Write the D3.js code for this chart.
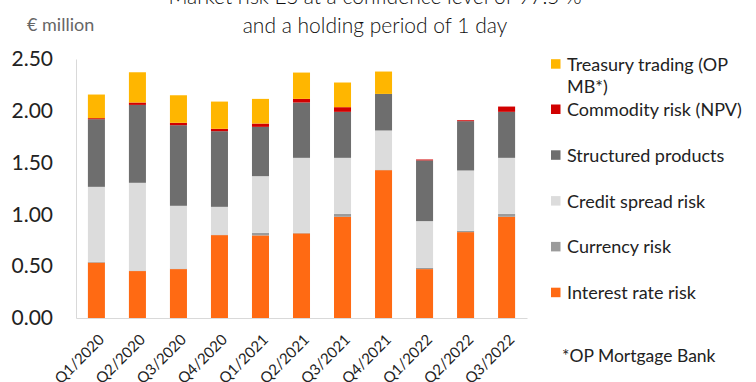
<!DOCTYPE html>
<html><head><meta charset="utf-8">
<script src="https://cdn.jsdelivr.net/npm/d3@7"></script>
<style>
body{margin:0;background:#fff;}
svg{display:block;}
text{font-family:Lato, "Open Sans", sans-serif;}
</style></head>
<body><svg id="c" width="756" height="382"></svg>
<script>
const categories = ["Q1/2020","Q2/2020","Q3/2020","Q4/2020","Q1/2021","Q2/2021","Q3/2021","Q4/2021","Q1/2022","Q2/2022","Q3/2022"];
const interestRate = [0.535,0.453,0.472,0.800,0.797,0.817,0.977,1.427,0.472,0.829,0.977];
const currency     = [0.008,0.005,0.005,0.005,0.026,0.005,0.029,0.005,0.013,0.013,0.029];
const creditSpread = [0.723,0.847,0.606,0.268,0.546,0.724,0.540,0.378,0.450,0.582,0.540];
const structured   = [0.653,0.752,0.778,0.730,0.476,0.534,0.444,0.353,0.586,0.476,0.444];
const commodity    = [0.010,0.023,0.023,0.023,0.032,0.035,0.045,0.000,0.009,0.009,0.051];
const treasury     = [0.228,0.292,0.266,0.263,0.238,0.254,0.238,0.216,0.000,0.000,0.000];
const seriesNames  = ["Interest rate risk","Currency risk","Credit spread risk","Structured products","Commodity risk (NPV)","Treasury trading (OP MB*)"];
const seriesColors = ["#FF6A13","#9B9B9B","#DCDCDC","#6E6E6E","#D10000","#FFB600"];
const yTicks = [0,0.5,1.0,1.5,2.0,2.5];
const titleLines = ["Market risk ES at a confidence level of 97.5 %","and a holding period of 1 day"];

const seriesValues = [interestRate,currency,creditSpread,structured,commodity,treasury];
const keys = seriesNames.map((d,i)=>"s"+i);
const rows = categories.map((c,j)=>{const o={cat:c}; seriesValues.forEach((s,i)=>o["s"+i]=s[j]); return o;});
const stacked = d3.stack().keys(keys)(rows);

const svg = d3.select("#c");
const x = d3.scaleBand().domain(categories).range([76,527]).paddingInner(0.585).paddingOuter(0.29);
const y = d3.scaleLinear().domain([0,2.5]).range([318,59]);

// title
svg.append("g").selectAll("text").data(titleLines).join("text")
  .attr("x",375).attr("y",(d,i)=>4+i*28.5).attr("text-anchor","middle")
  .attr("font-size",21).attr("font-weight",300).attr("fill","#111").text(d=>d);
svg.append("text").attr("x",27).attr("y",31).attr("font-size",18).attr("fill","#666").text("€ million");

// bars
svg.append("g").selectAll("g").data(stacked).join("g")
  .attr("fill",(d,i)=>seriesColors[i])
  .selectAll("rect").data(d=>d).join("rect")
  .attr("x",d=>x(d.data.cat)).attr("width",x.bandwidth())
  .attr("y",d=>y(d[1])).attr("height",d=>Math.max(0,y(d[0])-y(d[1])));

// axes
const yAxis = svg.append("g").attr("transform","translate(76,0)")
  .call(d3.axisLeft(y).tickValues(yTicks).tickFormat(d3.format(".2f")).tickSize(0).tickPadding(23));
yAxis.select(".domain").attr("stroke","#D9D9D9");
yAxis.selectAll("text").attr("font-size",21).attr("fill","#222").attr("font-family","Lato");

const xAxis = svg.append("g").attr("transform","translate(0,318)")
  .call(d3.axisBottom(x).tickSize(0).tickPadding(0));
xAxis.select(".domain").attr("stroke","#D9D9D9");
xAxis.selectAll("text").attr("font-size",15).attr("fill","#222")
  .attr("text-anchor","end").attr("dy","0.35em")
  .attr("transform","translate(5,19) rotate(-45)").attr("y",0).attr("x",0)
  .attr("font-family","'Open Sans', Lato, sans-serif");

// legend
const legendOrder = [5,4,3,2,1,0];
const lg = svg.append("g");
legendOrder.forEach((si,k)=>{
  const base = k===0 ? 70.7 : 116 + (k-1)*45.8;
  lg.append("rect").attr("x",551).attr("y",base-11.5).attr("width",9.5).attr("height",9.5).attr("fill",seriesColors[si]);
  const name = seriesNames[si];
  if(si===5){
    lg.append("text").attr("x",567).attr("y",base).attr("font-size",18).attr("fill","#222").text("Treasury trading (OP");
    lg.append("text").attr("x",567).attr("y",base+22.6).attr("font-size",18).attr("fill","#222").text("MB*)");
  } else {
    lg.append("text").attr("x",567).attr("y",base).attr("font-size",18).attr("fill","#222").text(name);
  }
});
svg.append("text").attr("x",562).attr("y",362).attr("font-size",17.5).attr("fill","#222")
  .attr("font-family","'Open Sans', sans-serif").text("*OP Mortgage Bank");
</script></body></html>
